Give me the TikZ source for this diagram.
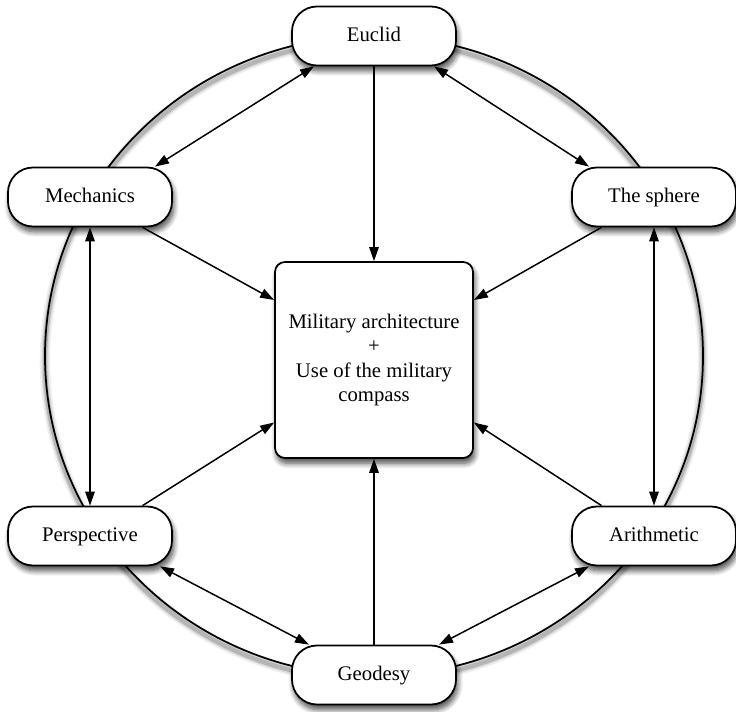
\documentclass[tikz,border=0pt]{standalone}
\usepackage{fontspec}
\setmainfont{Liberation Serif}
\usetikzlibrary{arrows.meta,shadows.blur}

\begin{document}
\begin{tikzpicture}[
                >={Triangle[length=0.28cm,width=0.19cm]},
                topic/.style={
                    draw=black,
                    line width=1pt,
                    fill=white,
                    rectangle,
                    rounded corners=0.5cm,
                    minimum width=3.28cm,
                    minimum height=1.18cm,
                    text height=1.6ex,
                    text depth=0.35ex,
                    align=center,
                    font=\fontsize{11.8}{13.7}\selectfont,
                    blur shadow={shadow xshift=1pt, shadow yshift=-3pt, shadow blur steps=8,
                                 shadow blur radius=3pt, shadow opacity=70}
                },
                corebox/.style={
                    topic,
                    text height=,
                    text depth=,
                    rounded corners=0.2cm,
                    minimum width=3.96cm,
                    minimum height=3.92cm
                },
                arrow/.style={
                    ->,
                    line width=0.85pt
                },
                twoway/.style={
                    <->,
                    line width=0.85pt
                }
            ]
                \useasboundingbox (0,0) rectangle (14.72,-14.24);

                % ring behind the topics, with a soft shadow
                \foreach \w/\o in {6pt/0.06, 4pt/0.1, 2.5pt/0.16}
                    \draw[line width=\w, opacity=\o] (7.48,-7.21) ellipse (6.58cm and 6.4cm);
                \draw[line width=1pt] (7.48,-7.12) ellipse (6.58cm and 6.4cm);

                \node[topic] (euclid) at (7.48,-0.72)  {Euclid};
                \node[topic] (mech)   at (1.8,-3.94)   {Mechanics};
                \node[topic] (sphere) at (13.08,-3.94) {The sphere};
                \node[topic] (persp)  at (1.8,-10.72)  {Perspective};
                \node[topic] (arith)  at (13.08,-10.72) {Arithmetic};
                \node[topic] (geod)   at (7.48,-13.5)  {Geodesy};
                \node[corebox] (core) at (7.48,-7.2)
                    {Military architecture\\+\\Use of the military\\compass};

                \draw[arrow] (euclid.south) -- (core.north);
                \draw[arrow] ([xshift=1.05cm]mech.south) -- ([yshift=1.2cm]core.west);
                \draw[arrow] ([xshift=-1.05cm]sphere.south) -- ([yshift=1.2cm]core.east);
                \draw[arrow] ([xshift=1.05cm]persp.north) -- ([yshift=-1.25cm]core.west);
                \draw[arrow] ([xshift=-1.05cm]arith.north) -- ([yshift=-1.25cm]core.east);
                \draw[arrow] (geod.north) -- (core.south);

                \draw[twoway] ([xshift=-1.2cm]euclid.south) -- ([xshift=1.3cm]mech.north);
                \draw[twoway] ([xshift=1.2cm]euclid.south) -- ([xshift=-1.3cm]sphere.north);
                \draw[twoway] (mech.south) -- (persp.north);
                \draw[twoway] (sphere.south) -- (arith.north);
                \draw[twoway] ([xshift=1.4cm]persp.south) -- ([xshift=-1.3cm]geod.north);
                \draw[twoway] ([xshift=-1.3cm]arith.south) -- ([xshift=1.3cm]geod.north);
        \end{tikzpicture}
\end{document}
